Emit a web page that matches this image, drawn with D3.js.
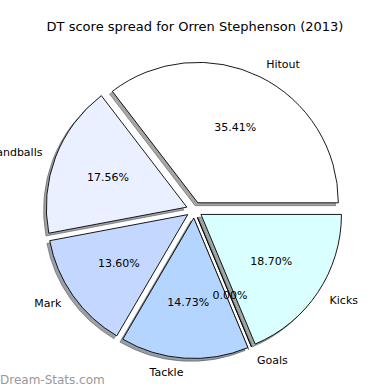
<!DOCTYPE html>
<html>
<head>
<meta charset="utf-8">
<script src="https://cdn.jsdelivr.net/npm/d3@7"></script>
<style>
  body { margin: 0; background: #fff; }
  text { font-family: "DejaVu Sans", sans-serif; }
</style>
</head>
<body>
<script>
// Chart data
var categories = ["Hitout", "Handballs", "Mark", "Tackle", "Goals", "Kicks"];
var percents = [35.41, 17.56, 13.60, 14.73, 0.00, 18.70];
var sliceColors = ["#ffffff", "#eaf0ff", "#c4d8ff", "#b3d5ff", "#c8e0ff", "#d9ffff"];
var titleText = "DT score spread for Orren Stephenson (2013)";
var watermark = "Dream-Stats.com";

var svgWidth = 390;
var svgHeight = 390;

var cx = 194.3, cy = 210;
var radius = 140.5;
var explode = 8;          // px offset for every slice
var shadowDx = -2.8, shadowDy = 2.8;

var svg = d3.select("body")
  .append("svg")
  .attr("width", svgWidth)
  .attr("height", svgHeight);

// matplotlib style: start at 3 o'clock, counter-clockwise
var pie = d3.pie()
  .sort(null)
  .value(d => d.value)
  .startAngle(Math.PI / 2)
  .endAngle(Math.PI / 2 - 2 * Math.PI);

var data = categories.map((c, i) => ({name: c, value: percents[i], color: sliceColors[i]}));
var arcs = pie(data);

var arc = d3.arc().innerRadius(0).outerRadius(radius);

function midAngle(d) { return (d.startAngle + d.endAngle) / 2; }
function offset(d, dist) {
  var a = midAngle(d);
  return [Math.sin(a) * dist, -Math.cos(a) * dist];
}

var chartGroup = svg.append("g")
  .attr("transform", `translate(${cx}, ${cy})`);

// shadows first (below all wedges)
chartGroup.selectAll(".shadow")
  .data(arcs)
  .enter()
  .append("path")
  .attr("class", "shadow")
  .attr("transform", d => {
    var o = offset(d, explode);
    return `translate(${o[0] + shadowDx}, ${o[1] + shadowDy})`;
  })
  .attr("d", arc)
  .attr("fill", d => {
    var c = d3.rgb(d.data.color);
    return d3.rgb(c.r * 0.3, c.g * 0.3, c.b * 0.3);
  })
  .attr("fill-opacity", 0.5)
  .attr("stroke", d => {
    var c = d3.rgb(d.data.color);
    return d3.rgb(c.r * 0.3, c.g * 0.3, c.b * 0.3);
  })
  .attr("stroke-opacity", 0.5)
  .attr("stroke-width", 1);

chartGroup.selectAll(".slice")
  .data(arcs)
  .enter()
  .append("path")
  .attr("class", "slice")
  .attr("transform", d => {
    var o = offset(d, explode);
    return `translate(${o[0]}, ${o[1]})`;
  })
  .attr("d", arc)
  .attr("fill", d => d.data.color)
  .attr("stroke", "#000")
  .attr("stroke-width", 0.9)
  .attr("stroke-linejoin", "miter");

// category labels at 1.1 r
chartGroup.selectAll(".label")
  .data(arcs)
  .enter()
  .append("text")
  .attr("class", "label")
  .attr("x", d => offset(d, explode + 1.1 * radius)[0])
  .attr("y", d => offset(d, explode + 1.1 * radius)[1])
  .attr("dy", "0.35em")
  .attr("text-anchor", d => Math.sin(midAngle(d)) > 0 ? "start" : "end")
  .style("font-size", "11px")
  .text(d => d.data.name);

// percentage labels at 0.6 r
chartGroup.selectAll(".pct")
  .data(arcs)
  .enter()
  .append("text")
  .attr("class", "pct")
  .attr("x", d => offset(d, explode + 0.6 * radius)[0])
  .attr("y", d => offset(d, explode + 0.6 * radius)[1])
  .attr("dy", "0.35em")
  .attr("text-anchor", "middle")
  .style("font-size", "11px")
  .text(d => d3.format(".2f")(d.data.value) + "%");

svg.append("text")
  .attr("x", 195)
  .attr("y", 26)
  .attr("dy", "0.35em")
  .attr("text-anchor", "middle")
  .style("font-size", "13px")
  .text(titleText);

svg.append("text")
  .attr("x", 0)
  .attr("y", 380)
  .attr("dy", "0.35em")
  .style("font-size", "12px")
  .attr("fill", "#999999")
  .text(watermark);
</script>
</body>
</html>
